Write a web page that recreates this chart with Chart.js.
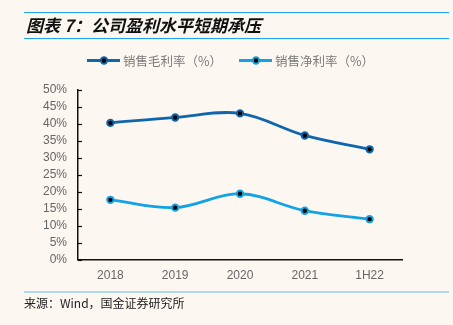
<!DOCTYPE html>
<html>
<head>
<meta charset="utf-8">
<script src="https://cdn.jsdelivr.net/npm/chart.js@4"></script>
<style>
  html, body { margin: 0; padding: 0; background: #fdf7f1; }
  #wrap { position: relative; width: 453px; height: 325px; }
</style>
</head>
<body>
<div id="wrap"><canvas id="myChart" width="453" height="325"></canvas></div>
<script>
const categories = ['2018', '2019', '2020', '2021', '1H22'];
const grossMargin = [40.3, 41.9, 43.1, 36.6, 32.5];
const netMargin = [17.6, 15.3, 19.4, 14.4, 11.9];
const seriesNames = ['销售毛利率（%）', '销售净利率（%）'];
const seriesColors = ['#0f66ae', '#12a2e6'];

const CJK = "'Noto Sans CJK SC', 'Liberation Sans', sans-serif";
const LAT = "'Liberation Sans', 'Noto Sans CJK SC', sans-serif";

function drawMarker(c, x, y, color) {
    c.beginPath();
    c.arc(x, y, 3.2, 0, Math.PI * 2);
    c.fillStyle = '#000';
    c.fill();
    c.lineWidth = 2;
    c.strokeStyle = color;
    c.stroke();
}

// title, rules, legend, source and inward y ticks
const decor = {
    id: 'decor',
    beforeDraw(chart) {
        const c = chart.ctx;
        c.save();
        c.fillStyle = '#fdf7f1';
        c.fillRect(0, 0, chart.width, chart.height);
        c.restore();
    },
    afterDraw(chart) {
        const c = chart.ctx;
        c.save();
        // rules
        c.strokeStyle = '#1aa7e8';
        c.lineWidth = 1;
        [12.5, 38.5].forEach(function(y) {
            c.beginPath(); c.moveTo(24, y); c.lineTo(449, y); c.stroke();
        });
        c.strokeStyle = '#8fd0ee';
        c.lineWidth = 1.5;
        c.beginPath(); c.moveTo(24, 292); c.lineTo(449, 292); c.stroke();

        // title
        c.fillStyle = '#111';
        c.textBaseline = 'middle';
        c.font = "italic bold 17px " + CJK;
        c.fillText('图表 7：公司盈利水平短期承压', 26, 25.5);

        // source
        c.fillStyle = '#222';
        c.font = "12px " + CJK;
        c.fillText('来源：Wind，国金证券研究所', 24, 303.5);

        // legend
        const items = [[87, 120, 104, 123], [239, 272, 256, 275]];
        items.forEach(function(it, i) {
            c.strokeStyle = seriesColors[i];
            c.lineWidth = 2.8;
            c.beginPath(); c.moveTo(it[0], 60.5); c.lineTo(it[1], 60.5); c.stroke();
            drawMarker(c, it[2], 60.5, seriesColors[i]);
            c.fillStyle = '#7a7a7a';
            c.font = "12.5px " + CJK;
            c.fillText(seriesNames[i], it[3], 61);
        });

        // inward tick marks on the y axis
        const ys = chart.scales.y;
        const left = chart.chartArea.left;
        c.strokeStyle = '#111';
        c.lineWidth = 1.2;
        ys.ticks.forEach(function(t) {
            const y = Math.round(ys.getPixelForValue(t.value)) + 0.5;
            c.beginPath(); c.moveTo(left, y); c.lineTo(left + 4, y); c.stroke();
        });
        c.restore();
    }
};

new Chart(document.getElementById('myChart'), {
    type: 'line',
    data: {
        labels: categories,
        datasets: [grossMargin, netMargin].map(function(d, i) {
            return {
                label: seriesNames[i],
                data: d,
                borderColor: seriesColors[i],
                backgroundColor: '#000',
                pointBackgroundColor: '#000',
                pointBorderColor: seriesColors[i],
                pointBorderWidth: 2,
                pointRadius: 3.2,
                borderWidth: 2.8,
                tension: 0.35,
                fill: false
            };
        })
    },
    options: {
        responsive: false,
        animation: false,
        events: [],
        layout: { padding: { left: 0, right: 51, top: 90, bottom: 35.5 } },
        plugins: {
            legend: { display: false },
            tooltip: { enabled: false }
        },
        scales: {
            x: {
                offset: true,
                grid: { display: false, drawTicks: false },
                border: { color: '#111', width: 1.5 },
                ticks: { color: '#666', font: { family: LAT, size: 12 }, padding: 9 },
                afterFit: function(s) { s.height = 30; }
            },
            y: {
                min: 0,
                max: 50,
                grid: { display: false, drawTicks: false },
                border: { color: '#111', width: 1.5 },
                ticks: {
                    stepSize: 5,
                    autoSkip: false,
                    color: '#666',
                    font: { family: LAT, size: 12 },
                    padding: 11,
                    callback: function(v) { return v + '%'; }
                },
                afterFit: function(s) { s.width = 78; }
            }
        }
    },
    plugins: [decor]
});
</script>
</body>
</html>
